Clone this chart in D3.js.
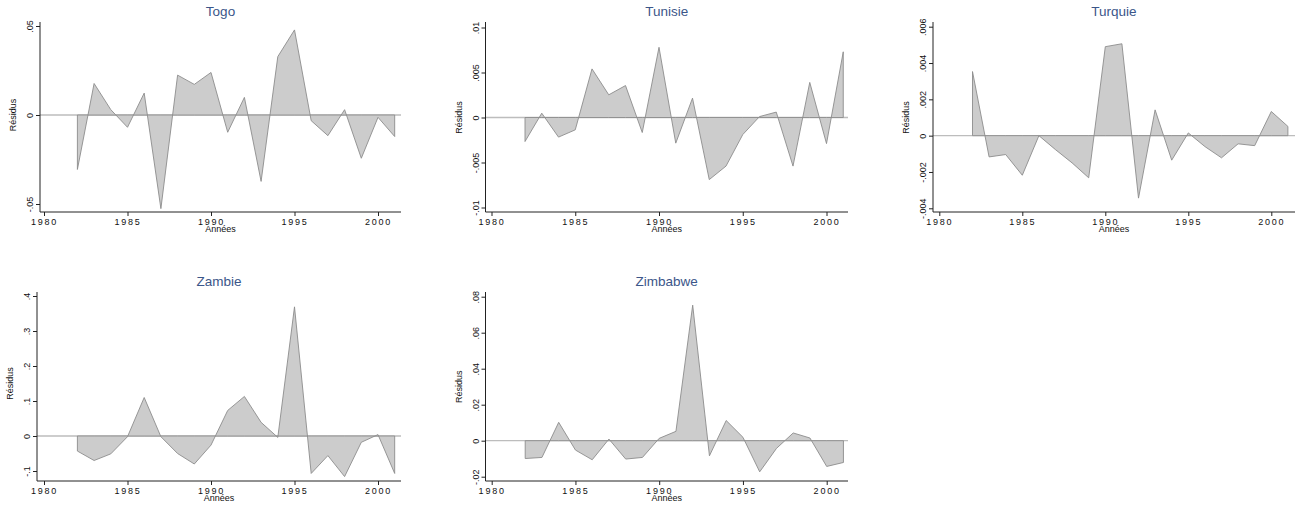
<!DOCTYPE html>
<html><head><meta charset="utf-8">
<script src="https://cdn.jsdelivr.net/npm/d3@7"></script>
<style>body{margin:0;background:#fff}svg{display:block}</style>
</head><body>
<svg id="c" width="1302" height="510"></svg>
<script>
// ---- data ----
const years = [1982,1983,1984,1985,1986,1987,1988,1989,1990,1991,1992,1993,1994,1995,1996,1997,1998,1999,2000,2001];
const countries = ["Togo","Tunisie","Turquie","Zambie","Zimbabwe"];
const togo     = [-0.0306,0.0177,0.003,-0.0069,0.0123,-0.0526,0.0224,0.0172,0.0239,-0.0097,0.0099,-0.0373,0.0328,0.0478,-0.0032,-0.0116,0.003,-0.0243,-0.0013,-0.0121];
const tunisie  = [-0.00267,0.00048,-0.00218,-0.00137,0.0054,0.00252,0.00355,-0.00167,0.0078,-0.00285,0.00215,-0.0069,-0.0054,-0.0019,0.0001,0.0006,-0.0054,0.0039,-0.0029,0.0073];
const turquie  = [0.00353,-0.00117,-0.00104,-0.00218,0.0,-0.00077,-0.0015,-0.00232,0.0049,0.00506,-0.00344,0.00142,-0.00135,0.00015,-0.0006,-0.00122,-0.00045,-0.00055,0.00133,0.00051];
const zambie   = [-0.043,-0.070,-0.051,-0.002,0.110,-0.002,-0.050,-0.080,-0.026,0.073,0.113,0.039,-0.004,0.369,-0.107,-0.056,-0.116,-0.018,0.004,-0.107];
const zimbabwe = [-0.0099,-0.0093,0.0102,-0.0052,-0.0106,0.0009,-0.0102,-0.0093,0.0013,0.0052,0.0753,-0.0084,0.0112,0.0019,-0.0173,-0.0043,0.0043,0.0015,-0.0143,-0.0121];
const xTicks = [1980,1985,1990,1995,2000];
const togoTicks = [-0.05,0,0.05];       const togoLabels = ["-.05","0",".05"];
const tunisieTicks = [-0.01,-0.005,0,0.005,0.01]; const tunisieLabels = ["-.01","-.005","0",".005",".01"];
const turquieTicks = [-0.004,-0.002,0,0.002,0.004,0.006]; const turquieLabels = ["-.004","-.002","0",".002",".004",".006"];
const zambieTicks = [-0.1,0,0.1,0.2,0.3,0.4]; const zambieLabels = ["-.1","0",".1",".2",".3",".4"];
const zimbabweTicks = [-0.02,0,0.02,0.04,0.06,0.08]; const zimbabweLabels = ["-.02","0",".02",".04",".06",".08"];
const xLabel = "Années", yLabel = "Résidus";

// ---- layout ----
const layout = [
  {axisX:40,   xEnd:401,  top:22,  bottom:212, x0:44,    x1:378,   yr:[204,26]},
  {axisX:485.5,xEnd:848,  top:22,  bottom:212, x0:491.5, x1:826.5, yr:[207.5,27.5]},
  {axisX:933,  xEnd:1295, top:22,  bottom:212, x0:939.3, x1:1271.3,yr:[208.3,26.7]},
  {axisX:37,   xEnd:401,  top:292, bottom:481, x0:44,    x1:378,   yr:[471,296]},
  {axisX:485.5,xEnd:848,  top:292, bottom:481, x0:491.7, x1:826.7, yr:[476.7,296.7]}
];
const series = [togo,tunisie,turquie,zambie,zimbabwe];
const yTicksAll = [togoTicks,tunisieTicks,turquieTicks,zambieTicks,zimbabweTicks];
const yLabelsAll = [togoLabels,tunisieLabels,turquieLabels,zambieLabels,zimbabweLabels];

const svg = d3.select("#c");
const FONT = "Liberation Sans, Arial, sans-serif";

countries.forEach((name, i) => {
  const L = layout[i];
  const vals = series[i];
  const yt = yTicksAll[i], yl = yLabelsAll[i];
  const x = d3.scaleLinear().domain([xTicks[0], xTicks[xTicks.length-1]]).range([L.x0, L.x1]);
  const y = d3.scaleLinear().domain([yt[0], yt[yt.length-1]]).range(L.yr);
  const g = svg.append("g");

  // zero line
  g.append("line").attr("x1", L.axisX).attr("x2", L.xEnd)
    .attr("y1", y(0)).attr("y2", y(0))
    .attr("stroke", "#bdbdbd").attr("stroke-width", 1.3);

  // area
  const data = years.map((yr, k) => ({yr, v: vals[k]}));
  const area = d3.area().x(d => x(d.yr)).y0(y(0)).y1(d => y(d.v));
  g.append("path").datum(data).attr("d", area)
    .attr("fill", "#cccccc").attr("stroke", "#8c8c8c").attr("stroke-width", 0.9)
    .attr("stroke-linejoin", "miter");

  // axis lines
  g.append("line").attr("x1", L.axisX).attr("x2", L.axisX).attr("y1", L.top).attr("y2", L.bottom)
    .attr("stroke", "#222").attr("stroke-width", 1);
  g.append("line").attr("x1", L.axisX).attr("x2", L.xEnd).attr("y1", L.bottom).attr("y2", L.bottom)
    .attr("stroke", "#222").attr("stroke-width", 1);

  // y axis
  const ya = g.append("g").attr("transform", `translate(${L.axisX},0)`)
    .call(d3.axisLeft(y).tickValues(yt).tickSize(4).tickFormat((d, k) => yl[k]));
  ya.select(".domain").remove();
  ya.selectAll(".tick line").attr("stroke", "#222");
  ya.selectAll(".tick text")
    .attr("transform", "rotate(-90)").attr("x", 0).attr("y", -7).attr("dy", 0)
    .attr("text-anchor", "middle").attr("font-family", FONT).attr("font-size", 9).attr("fill", "#111");

  // x axis
  const xa = g.append("g").attr("transform", `translate(0,${L.bottom})`)
    .call(d3.axisBottom(x).tickValues(xTicks).tickSize(4).tickFormat(d3.format("d")));
  xa.select(".domain").remove();
  xa.selectAll(".tick line").attr("stroke", "#222");
  xa.selectAll(".tick text").attr("y", 12.5).attr("dy", 0)
    .attr("font-family", FONT).attr("font-size", 9).attr("letter-spacing", 1.8).attr("fill", "#111");

  const cx = (L.axisX + L.xEnd) / 2;
  // axis titles
  g.append("text").attr("x", cx).attr("y", L.bottom + 20).attr("text-anchor", "middle")
    .attr("font-family", FONT).attr("font-size", 9).attr("fill", "#111").text(xLabel);
  const cy = (L.yr[0] + L.yr[1]) / 2;
  g.append("text").attr("transform", `translate(${L.axisX - 24},${cy}) rotate(-90)`)
    .attr("text-anchor", "middle").attr("font-family", FONT).attr("font-size", 9).attr("fill", "#111").text(yLabel);

  // title
  g.append("text").attr("x", cx).attr("y", L.top - 6).attr("text-anchor", "middle")
    .attr("font-family", FONT).attr("font-size", 13.5).attr("fill", "#3b5689").text(name);
});
</script>
</body></html>
